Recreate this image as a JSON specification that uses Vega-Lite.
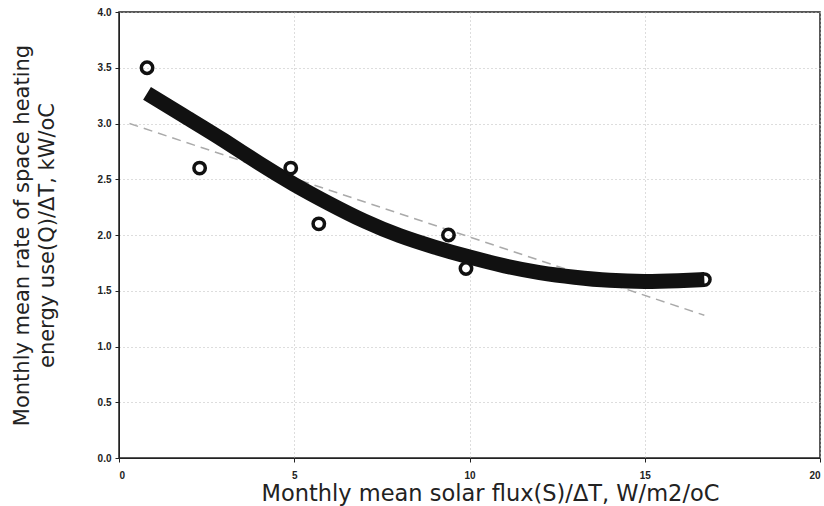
{
  "$schema": "https://vega.github.io/schema/vega-lite/v6.json",
  "autosize": {"type": "none"},
  "width": 701,
  "height": 446,
  "padding": {"left": 119, "top": 12, "right": 4, "bottom": 48},
  "background": "white",
  "config": {
    "view": {"stroke": "#222", "strokeWidth": 1.5},
    "axis": {
      "labelFont": "Liberation Sans",
      "labelFontWeight": "bold",
      "labelFontSize": 10,
      "labelColor": "#222",
      "titleFont": "DejaVu Sans",
      "titleFontWeight": "normal",
      "titleFontSize": 21,
      "titleColor": "#222",
      "domainColor": "#222",
      "tickColor": "#222",
      "gridColor": "#bbb",
      "gridDash": [1, 3],
      "gridWidth": 1
    }
  },
  "datasets": {
    "obs": [
      {"s": 0.8, "q": 3.5},
      {"s": 2.3, "q": 2.6},
      {"s": 4.9, "q": 2.6},
      {"s": 5.7, "q": 2.1},
      {"s": 9.4, "q": 2.0},
      {"s": 9.9, "q": 1.7},
      {"s": 16.7, "q": 1.6}
    ],
    "curve": [
      {"s": 0.8, "q": 3.27},
      {"s": 2.0, "q": 3.04},
      {"s": 3.0, "q": 2.85},
      {"s": 4.0, "q": 2.64},
      {"s": 5.0, "q": 2.45},
      {"s": 6.0, "q": 2.28},
      {"s": 7.0, "q": 2.12},
      {"s": 8.0, "q": 1.99},
      {"s": 9.0, "q": 1.89},
      {"s": 10.0, "q": 1.8},
      {"s": 11.0, "q": 1.72},
      {"s": 12.0, "q": 1.66},
      {"s": 13.0, "q": 1.62},
      {"s": 14.0, "q": 1.59},
      {"s": 15.0, "q": 1.58},
      {"s": 16.0, "q": 1.59},
      {"s": 16.7, "q": 1.6}
    ],
    "linear": [
      {"s": 0.3, "q": 3.0},
      {"s": 16.7, "q": 1.28}
    ]
  },
  "layer": [
    {
      "data": {"name": "linear"},
      "mark": {"type": "line", "color": "#aaa", "strokeDash": [9, 6], "strokeWidth": 1.5},
      "encoding": {
        "x": {
          "field": "s", "type": "quantitative",
          "scale": {"domain": [0, 20], "nice": false},
          "axis": {
            "values": [0, 5, 10, 15, 20],
            "format": "d",
            "grid": true,
            "title": "Monthly mean solar flux(S)/\u0394T, W/m2/oC",
            "titleFontSize": 22.5,
            "titlePadding": 2,
            "titleX": 371,
            "labelPadding": 8,
            "tickSize": 4
          }
        },
        "y": {
          "field": "q", "type": "quantitative",
          "scale": {"domain": [0, 4], "nice": false},
          "axis": {
            "values": [0, 0.5, 1, 1.5, 2, 2.5, 3, 3.5, 4],
            "format": ".1f",
            "grid": true,
            "title": ["Monthly mean rate of space heating", "energy use(Q)/\u0394T, kW/oC"],
            "titlePadding": 40,
            "titleLineHeight": 25,
            "labelPadding": 4,
            "tickSize": 4
          }
        }
      }
    },
    {
      "data": {"name": "curve"},
      "mark": {"type": "line", "color": "#111", "strokeWidth": 15, "interpolate": "basis", "strokeCap": "butt", "strokeJoin": "round"},
      "encoding": {
        "x": {"field": "s", "type": "quantitative"},
        "y": {"field": "q", "type": "quantitative"}
      }
    },
    {
      "data": {"name": "obs"},
      "mark": {"type": "point", "shape": "circle", "filled": false, "color": "#111", "strokeWidth": 3.5, "size": 130, "opacity": 1},
      "encoding": {
        "x": {"field": "s", "type": "quantitative"},
        "y": {"field": "q", "type": "quantitative"}
      }
    }
  ]
}
